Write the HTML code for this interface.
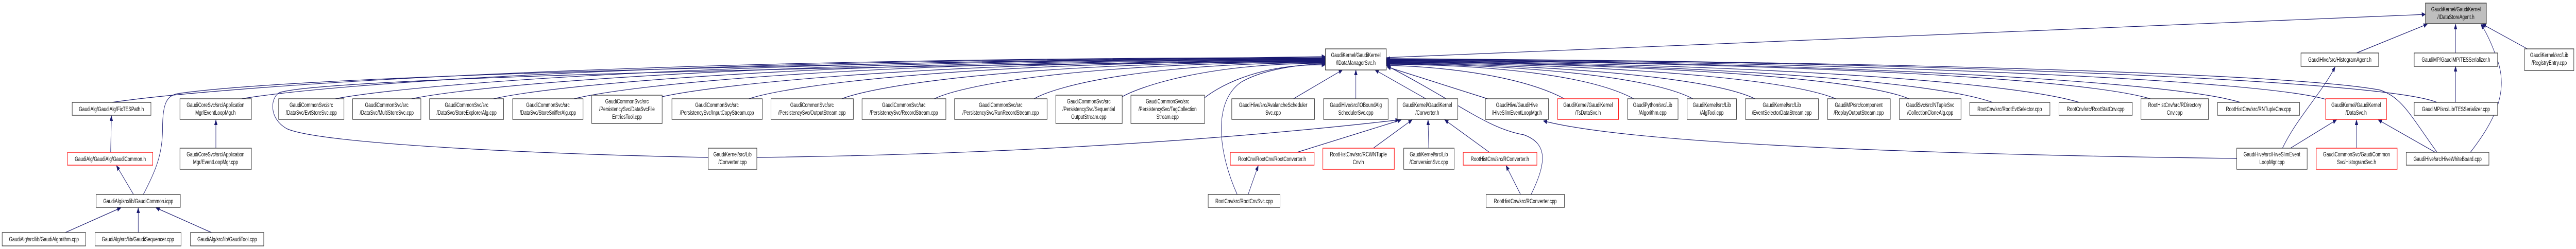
<!DOCTYPE html>
<html><head><meta charset="utf-8"><style>
html,body{margin:0;padding:0;background:#fff;width:100%;height:100%;overflow:hidden}
svg{display:block;width:100vw;height:100vh}
text{font-family:"Liberation Sans",sans-serif;font-size:12px;fill:#000}
.n{fill:#fff;stroke:#333;stroke-width:1.3}
.r{fill:#fff;stroke:#ff2020;stroke-width:1.5}
.e{fill:none;stroke:#191970;stroke-width:1.2}
</style></head><body>
<svg viewBox="0 0 7100 484" preserveAspectRatio="none" xmlns="http://www.w3.org/2000/svg">
<defs><marker id="a" markerWidth="11" markerHeight="9" refX="10" refY="4.5" orient="auto" markerUnits="userSpaceOnUse"><path d="M0,0 L11,4.5 L0,9 z" fill="#191970"/></marker></defs>
<g class="e" marker-end="url(#a)">
<path d="M308,199 C576,171 1646,112 3653,112"/>
<path d="M666,192 C909,163 1863,113 3653,113"/>
<path d="M924,192 C1143,163 2016,114 3653,114"/>
<path d="M1134,192 C1336,163 2142,115 3653,115"/>
<path d="M1360,192 C1543,163 2277,116 3653,116"/>
<path d="M1582,192 C1748,163 2410,117 3653,117"/>
<path d="M1825,188 C1971,165 2556,118 3653,118"/>
<path d="M2064,192 C2190,163 2699,119 3653,119"/>
<path d="M2320,192 C2428,163 2854,120 3653,120"/>
<path d="M2575,192 C2660,163 3006,121 3653,121"/>
<path d="M2850,192 C2916,165 3171,122 3653,122"/>
<path d="M3093,188 C3138,170 3317,123 3653,123"/>
<path d="M3320,190 C3347,175 3453,124 3653,126"/>
<path d="M3565,192 L3700,136"/>
<path d="M3737,192 L3737,136"/>
<path d="M3930,192 L3790,136"/>
<path d="M395,378 C430,330 448,300 448,250 C448,200 460,186 490,182 C700,160 1500,130 3653,110"/>
<path d="M1952,306 C1500,300 880,280 790,250 C740,230 745,190 770,180 C900,150 2500,125 3653,119"/>
<path d="M3410,378 C3360,300 3340,200 3420,160 C3480,135 3580,125 3653,124"/>
<path d="M3440,378 L3468,322"/>
<path d="M4100,192 L3823,130"/>
<path d="M4312,192 C4200,150 4000,130 3821,127"/>
<path d="M4503,192 C4380,145 4100,126 3821,125"/>
<path d="M4666,192 C4540,145 4150,125 3821,124"/>
<path d="M4837,192 C4700,145 4200,124 3821,123"/>
<path d="M5060,192 C4900,145 4300,123 3821,122"/>
<path d="M5262,192 C5100,145 4400,122 3821,121"/>
<path d="M5492,199 C5300,150 4500,121 3821,120"/>
<path d="M5731,199 C5500,150 4600,120 3821,119"/>
<path d="M5927,192 C5700,145 4700,119 3821,118"/>
<path d="M6175,199 C5950,150 4800,118 3821,117"/>
<path d="M6410,193 C6200,150 4900,117 3821,116"/>
<path d="M6717,199 C6550,150 5000,116 3821,115"/>
<path d="M6717,296 C6640,220 6620,190 6560,175 C6300,140 5000,118 3821,114"/>
<path d="M3821,112 L6685,28"/>
<path d="M4220,378 C4260,320 4270,280 4200,262 C4100,250 4020,200 3823,128"/>
<path d="M4191,378 L4151,322"/>
<path d="M3575,296 L3862,233"/>
<path d="M3785,288 L3892,233"/>
<path d="M3938,288 L3936,233"/>
<path d="M4105,296 L3982,233"/>
<path d="M2086,306 C2800,300 3400,270 3856,233"/>
<path d="M6165,308 C5300,300 4500,280 4254,235"/>
<path d="M6291,288 C6330,230 6400,180 6436,130"/>
<path d="M6313,288 L6440,233"/>
<path d="M6495,288 L6495,233"/>
<path d="M6712,296 L6555,233"/>
<path d="M6809,296 C6870,240 6920,180 6880,110 C6865,80 6850,60 6838,47"/>
<path d="M6495,103 L6690,47"/>
<path d="M6768,103 L6768,47"/>
<path d="M6966,95 L6842,47"/>
<path d="M6768,199 L6768,129"/>
<path d="M595,288 L595,233"/>
<path d="M305,296 L307,225"/>
<path d="M368,378 L321,322"/>
<path d="M180,452 L333,404"/>
<path d="M381,452 L381,404"/>
<path d="M583,452 L430,404"/>
</g>
<g text-anchor="middle">
<rect x="6685" y="6" width="168" height="40" fill="#bfbfbf" stroke="#333" stroke-width="1.3"/><text x="6769" y="22">GaudiKernel/GaudiKernel</text><text x="6769" y="37">/IDataStoreAgent.h</text>
<rect class="n" x="3653" y="95" width="168" height="41"/><text x="3737" y="111">GaudiKernel/GaudiKernel</text><text x="3737" y="126">/IDataManagerSvc.h</text>
<rect class="n" x="6342" y="103" width="214" height="26"/><text x="6449" y="120">GaudiHive/src/HistogramAgent.h</text>
<rect class="n" x="6654" y="103" width="230" height="26"/><text x="6769" y="120">GaudiMP/GaudiMP/TESSerializer.h</text>
<rect class="n" x="6958" y="95" width="136" height="42"/><text x="7026" y="111">GaudiKernel/src/Lib</text><text x="7026" y="126">/RegistryEntry.cpp</text>

<rect class="n" x="199" y="199" width="217" height="25"/><text x="307" y="216">GaudiAlg/GaudiAlg/FixTESPath.h</text>
<rect class="n" x="496" y="192" width="197" height="40"/><text x="594" y="208">GaudiCoreSvc/src/Application</text><text x="594" y="223">Mgr/EventLoopMgr.h</text>
<rect class="n" x="768" y="192" width="180" height="40"/><text x="858" y="208">GaudiCommonSvc/src</text><text x="858" y="223">/DataSvc/EvtStoreSvc.cpp</text>
<rect class="n" x="972" y="192" width="188" height="40"/><text x="1066" y="208">GaudiCommonSvc/src</text><text x="1066" y="223">/DataSvc/MultiStoreSvc.cpp</text>
<rect class="n" x="1184" y="192" width="204" height="40"/><text x="1286" y="208">GaudiCommonSvc/src</text><text x="1286" y="223">/DataSvc/StoreExplorerAlg.cpp</text>
<rect class="n" x="1413" y="192" width="194" height="40"/><text x="1510" y="208">GaudiCommonSvc/src</text><text x="1510" y="223">/DataSvc/StoreSnifferAlg.cpp</text>
<rect class="n" x="1631" y="185" width="194" height="55"/><text x="1728" y="201">GaudiCommonSvc/src</text><text x="1728" y="216">/PersistencySvc/DataSvcFile</text><text x="1728" y="231">EntriesTool.cpp</text>
<rect class="n" x="1852" y="192" width="249" height="40"/><text x="1976" y="208">GaudiCommonSvc/src</text><text x="1976" y="223">/PersistencySvc/InputCopyStream.cpp</text>
<rect class="n" x="2125" y="192" width="227" height="40"/><text x="2238" y="208">GaudiCommonSvc/src</text><text x="2238" y="223">/PersistencySvc/OutputStream.cpp</text>
<rect class="n" x="2376" y="192" width="231" height="40"/><text x="2491" y="208">GaudiCommonSvc/src</text><text x="2491" y="223">/PersistencySvc/RecordStream.cpp</text>
<rect class="n" x="2631" y="192" width="255" height="40"/><text x="2758" y="208">GaudiCommonSvc/src</text><text x="2758" y="223">/PersistencySvc/RunRecordStream.cpp</text>
<rect class="n" x="2910" y="185" width="183" height="55"/><text x="3001" y="201">GaudiCommonSvc/src</text><text x="3001" y="216">/PersistencySvc/Sequential</text><text x="3001" y="231">OutputStream.cpp</text>
<rect class="n" x="3117" y="185" width="203" height="55"/><text x="3218" y="201">GaudiCommonSvc/src</text><text x="3218" y="216">/PersistencySvc/TagCollection</text><text x="3218" y="231">Stream.cpp</text>
<rect class="n" x="3395" y="192" width="228" height="40"/><text x="3509" y="208">GaudiHive/src/AvalancheScheduler</text><text x="3509" y="223">Svc.cpp</text>
<rect class="n" x="3648" y="192" width="178" height="40"/><text x="3737" y="208">GaudiHive/src/IOBoundAlg</text><text x="3737" y="223">SchedulerSvc.cpp</text>
<rect class="n" x="3851" y="192" width="167" height="40"/><text x="3934" y="208">GaudiKernel/GaudiKernel</text><text x="3934" y="223">/Converter.h</text>
<rect class="n" x="4094" y="192" width="174" height="40"/><text x="4181" y="208">GaudiHive/GaudiHive</text><text x="4181" y="223">/HiveSlimEventLoopMgr.h</text>
<rect class="r" x="4293" y="192" width="168" height="40"/><text x="4377" y="208">GaudiKernel/GaudiKernel</text><text x="4377" y="223">/TsDataSvc.h</text>
<rect class="n" x="4486" y="192" width="139" height="40"/><text x="4555" y="208">GaudiPython/src/Lib</text><text x="4555" y="223">/Algorithm.cpp</text>
<rect class="n" x="4650" y="192" width="136" height="40"/><text x="4718" y="208">GaudiKernel/src/Lib</text><text x="4718" y="223">/AlgTool.cpp</text>
<rect class="n" x="4811" y="192" width="201" height="40"/><text x="4911" y="208">GaudiKernel/src/Lib</text><text x="4911" y="223">/EventSelectorDataStream.cpp</text>
<rect class="n" x="5037" y="192" width="173" height="40"/><text x="5123" y="208">GaudiMP/src/component</text><text x="5123" y="223">/ReplayOutputStream.cpp</text>
<rect class="n" x="5235" y="192" width="170" height="40"/><text x="5320" y="208">GaudiSvc/src/NTupleSvc</text><text x="5320" y="223">/CollectionCloneAlg.cpp</text>
<rect class="n" x="5429" y="199" width="221" height="25"/><text x="5539" y="216">RootCnv/src/RootEvtSelector.cpp</text>
<rect class="n" x="5675" y="199" width="202" height="25"/><text x="5776" y="216">RootCnv/src/RootStatCnv.cpp</text>
<rect class="n" x="5901" y="192" width="186" height="40"/><text x="5994" y="208">RootHistCnv/src/RDirectory</text><text x="5994" y="223">Cnv.cpp</text>
<rect class="n" x="6112" y="199" width="226" height="25"/><text x="6225" y="216">RootHistCnv/src/RNTupleCnv.cpp</text>
<rect class="r" x="6410" y="192" width="168" height="40"/><text x="6494" y="208">GaudiKernel/GaudiKernel</text><text x="6494" y="223">/DataSvc.h</text>
<rect class="n" x="6654" y="199" width="230" height="25"/><text x="6769" y="216">GaudiMP/src/Lib/TESSerializer.cpp</text>

<rect class="r" x="186" y="296" width="235" height="25"/><text x="304" y="313">GaudiAlg/GaudiAlg/GaudiCommon.h</text>
<rect class="n" x="496" y="288" width="197" height="41"/><text x="594" y="304">GaudiCoreSvc/src/Application</text><text x="594" y="319">Mgr/EventLoopMgr.cpp</text>
<rect class="n" x="1952" y="288" width="134" height="41"/><text x="2019" y="304">GaudiKernel/src/Lib</text><text x="2019" y="319">/Converter.cpp</text>
<rect class="r" x="3391" y="296" width="231" height="25"/><text x="3506" y="313">RootCnv/RootCnv/RootConverter.h</text>
<rect class="r" x="3646" y="288" width="197" height="41"/><text x="3744" y="304">RootHistCnv/src/RCWNTuple</text><text x="3744" y="319">Cnv.h</text>
<rect class="n" x="3869" y="288" width="139" height="41"/><text x="3938" y="304">GaudiKernel/src/Lib</text><text x="3938" y="319">/ConversionSvc.cpp</text>
<rect class="r" x="4033" y="296" width="203" height="25"/><text x="4134" y="313">RootHistCnv/src/RConverter.h</text>
<rect class="n" x="6165" y="288" width="194" height="41"/><text x="6262" y="304">GaudiHive/src/HiveSlimEvent</text><text x="6262" y="319">LoopMgr.cpp</text>
<rect class="r" x="6384" y="288" width="223" height="41"/><text x="6495" y="304">GaudiCommonSvc/GaudiCommon</text><text x="6495" y="319">Svc/HistogramSvc.h</text>
<rect class="n" x="6632" y="296" width="228" height="25"/><text x="6746" y="313">GaudiHive/src/HiveWhiteBoard.cpp</text>

<rect class="n" x="265" y="378" width="232" height="25"/><text x="381" y="395">GaudiAlg/src/lib/GaudiCommon.icpp</text>
<rect class="n" x="3330" y="378" width="198" height="25"/><text x="3429" y="395">RootCnv/src/RootCnvSvc.cpp</text>
<rect class="n" x="4096" y="378" width="216" height="25"/><text x="4204" y="395">RootHistCnv/src/RConverter.cpp</text>

<rect class="n" x="6" y="452" width="230" height="26"/><text x="121" y="469">GaudiAlg/src/lib/GaudiAlgorithm.cpp</text>
<rect class="n" x="262" y="452" width="237" height="26"/><text x="380" y="469">GaudiAlg/src/lib/GaudiSequencer.cpp</text>
<rect class="n" x="525" y="452" width="202" height="26"/><text x="626" y="469">GaudiAlg/src/lib/GaudiTool.cpp</text>
</g>
</svg>
</body></html>
